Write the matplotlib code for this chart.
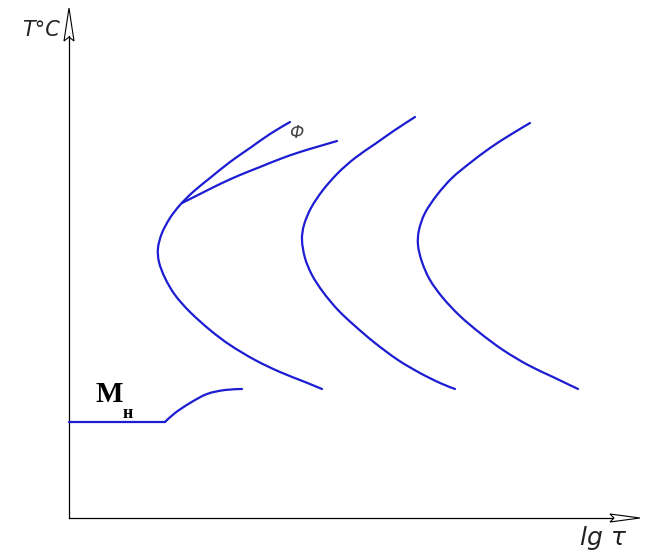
import numpy as np
import matplotlib
matplotlib.use("Agg")
import matplotlib.pyplot as plt
from matplotlib.patches import Polygon, PathPatch
from matplotlib.path import Path

# ==========================================
# DATA (lg tau, T) in drawing units, origin at the axes corner
# ==========================================

# start of transformation (C-curve), with the ferrite branch
start_x = [221, 201, 181, 161, 141, 124, 111, 101, 93, 89, 90, 96, 106,
           121, 141, 161, 186, 211, 236, 253]
start_t = [396, 384, 370, 356, 340, 326, 313, 300, 285, 270, 256, 240, 223,
           206, 188, 173, 158, 146, 136, 129]

ferrite_x = [113, 131, 151, 171, 191, 211, 231, 251, 268]
ferrite_t = [315, 324, 334, 343, 351, 359, 366, 372, 377]

# middle curve
mid_x = [346, 326, 306, 286, 269, 254, 242, 235, 233, 236, 243, 254, 269,
         286, 306, 329, 351, 371, 386]
mid_t = [401, 388, 374, 360, 345, 328, 310, 293, 278, 260, 243, 226, 208,
         192, 175, 158, 145, 135, 129]

# end of transformation
end_x = [461, 441, 421, 401, 383, 368, 356, 350, 349, 353, 361, 374, 391,
         411, 434, 459, 484, 509]
end_t = [395, 383, 370, 355, 340, 323, 305, 288, 273, 256, 238, 220, 202,
         185, 168, 153, 141, 129]

# martensite start line
ms_x = [0, 96, 106, 121, 138, 156, 173]
ms_t = [96, 96, 105, 115, 124, 128, 129]

BLUE = "#1c1cd2"


def smooth_path(xs, ts):
    # Catmull-Rom through the points, written as cubic Bezier segments
    p = np.column_stack([xs, ts]).astype(float)
    verts = [p[0]]
    codes = [Path.MOVETO]
    n = len(p)
    for i in range(n - 1):
        p0 = p[i - 1] if i > 0 else p[i]
        p3 = p[i + 2] if i + 2 < n else p[i + 1]
        c1 = p[i] + (p[i + 1] - p0) / 6.0
        c2 = p[i + 1] - (p3 - p[i]) / 6.0
        verts += [c1, c2, p[i + 1]]
        codes += [Path.CURVE4] * 3
    return Path(verts, codes)


# ==========================================
# FIGURE
# ==========================================

fig = plt.figure(figsize=(6.48, 5.56), dpi=100)
ax = fig.add_axes([0, 0, 1, 1])
ax.set_xlim(-69, 579)
ax.set_ylim(-38, 518)
ax.axis("off")

# axes with open arrowheads
ax.plot([0, 0], [0, 482], color="black", lw=0.9)
ax.plot([0, 543], [0, 0], color="black", lw=0.9)
ax.add_patch(Polygon([(0, 510), (-5, 477), (0, 481), (5, 477)],
                     closed=True, facecolor="white", edgecolor="black", lw=0.8))
ax.add_patch(Polygon([(571, 0), (541, 4), (545, 0), (541, -4)],
                     closed=True, facecolor="white", edgecolor="black", lw=0.8))

# curves
for xs, ts in [(start_x, start_t), (ferrite_x, ferrite_t),
               (mid_x, mid_t), (end_x, end_t)]:
    ax.add_patch(PathPatch(smooth_path(xs, ts), facecolor="none",
                           edgecolor=BLUE, lw=1.6, capstyle="round",
                           joinstyle="round"))

# Ms: straight part, then a smooth rise
ax.plot(ms_x[:2], ms_t[:2], color=BLUE, lw=1.6, solid_capstyle="round")
ax.add_patch(PathPatch(smooth_path(ms_x[1:], ms_t[1:]), facecolor="none",
                       edgecolor=BLUE, lw=1.6, capstyle="round",
                       joinstyle="round"))

# labels
ax.text(-47, 488, "T°C", fontsize=15, style="italic",
        family=["Liberation Sans Narrow", "DejaVu Sans"],
        ha="left", va="center", color="#222222")
ax.text(511, -20, "lg τ", fontsize=18, style="italic",
        family=["Liberation Sans Narrow", "DejaVu Sans"],
        ha="left", va="center", color="#222222")
ax.text(220, 385, "Ф", fontsize=12, style="italic",
        family=["DejaVu Sans"], ha="left", va="center", color="#444444")
ax.text(26, 124, "M", fontsize=21, weight="bold",
        family=["Liberation Serif", "DejaVu Serif"], ha="left", va="center")
ax.text(54, 104, "н", fontsize=13, weight="bold",
        family=["Liberation Serif", "DejaVu Serif"], ha="left", va="center")

fig.savefig("out.png", dpi=100)
plt.close(fig)
